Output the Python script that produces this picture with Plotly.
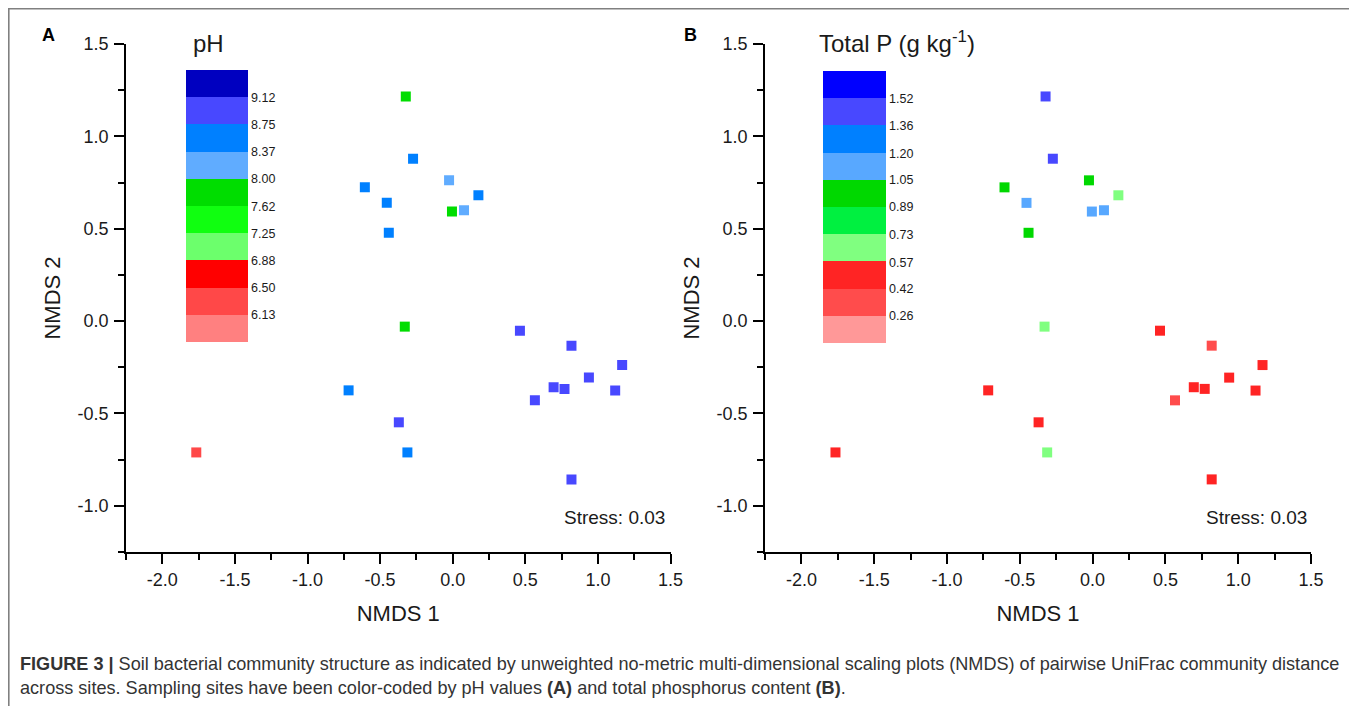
import plotly.graph_objects as go

# ---------------- data ----------------
nmds1 = [-0.323, -0.273, -0.025, -0.605, 0.177, -0.454, -0.005, 0.078, -0.440,
         0.463, 0.818, 1.167, 0.938, 0.695, 0.770, 1.119, 0.566, 0.818,
         -0.717, -0.371, -0.312, -1.766, -0.330]
nmds2 = [1.216, 0.879, 0.762, 0.724, 0.681, 0.640, 0.593, 0.600, 0.478,
         -0.052, -0.133, -0.238, -0.306, -0.358, -0.367, -0.376, -0.429, -0.857,
         -0.375, -0.548, -0.711, -0.711, -0.030]
ph = [7.80, 8.55, 8.20, 8.60, 8.50, 8.55, 7.78, 8.18, 8.52,
      8.95, 8.92, 8.98, 8.90, 8.96, 8.94, 8.93, 8.97, 8.91,
      8.58, 8.93, 8.54, 6.30, 7.82]
total_p = [1.44, 1.40, 0.97, 0.95, 0.66, 1.12, 1.10, 1.14, 0.99,
           0.50, 0.35, 0.48, 0.52, 0.47, 0.49, 0.51, 0.33, 0.46,
           0.50, 0.45, 0.64, 0.49, 0.68]

ph_bounds = [6.13, 6.50, 6.88, 7.25, 7.62, 8.00, 8.37, 8.75, 9.12]
ph_labels = ["6.13", "6.50", "6.88", "7.25", "7.62", "8.00", "8.37", "8.75", "9.12"]
p_bounds = [0.26, 0.42, 0.57, 0.73, 0.89, 1.05, 1.20, 1.36, 1.52]
p_labels = ["0.26", "0.42", "0.57", "0.73", "0.89", "1.05", "1.20", "1.36", "1.52"]

ph_colors = ["#ff8080", "#ff4848", "#ff0000", "#6cff6c", "#10ff10",
             "#00dd00", "#60acff", "#0080ff", "#4848ff", "#0000c0"]
p_colors = ["#ff9898", "#ff4c4c", "#ff2424", "#80ff80", "#00f040",
            "#00d800", "#58a8ff", "#0080ff", "#4848ff", "#0000ff"]

x_tickvals = [-2.0, -1.5, -1.0, -0.5, 0.0, 0.5, 1.0, 1.5]
x_ticktext = ["-2.0", "-1.5", "-1.0", "-0.5", "0.0", "0.5", "1.0", "1.5"]
y_tickvals = [-1.0, -0.5, 0.0, 0.5, 1.0, 1.5]
y_ticktext = ["-1.0", "-0.5", "0.0", "0.5", "1.0", "1.5"]

# ---------------- layout helpers ----------------
# the page body has an 8px margin, so the figure is drawn at (8, 8)
OFF = 8
W, H = 1357 - OFF, 706 - OFF
FONT = "Liberation Sans, Arial, Helvetica, sans-serif"


def px(x):
    return (x - OFF) / W


def py(y):
    return 1 - (y - OFF) / H


def discrete_scale(colors):
    n = len(colors)
    cs = []
    for i, c in enumerate(colors):
        cs.append([i / n, c])
        cs.append([(i + 1) / n, c])
    return cs


def crange(bounds):
    step = (bounds[-1] - bounds[0]) / (len(bounds) - 1)
    return bounds[0] - step, bounds[-1] + step


fig = go.Figure()
fig.add_trace(go.Scatter(x=nmds1, y=nmds2, mode="markers", xaxis="x", yaxis="y",
                         marker=dict(symbol="square", size=10, color=ph,
                                     coloraxis="coloraxis", line=dict(width=0)),
                         showlegend=False, hoverinfo="x+y"))
fig.add_trace(go.Scatter(x=nmds1, y=nmds2, mode="markers", xaxis="x2", yaxis="y2",
                         marker=dict(symbol="square", size=10, color=total_p,
                                     coloraxis="coloraxis2", line=dict(width=0)),
                         showlegend=False, hoverinfo="x+y"))

tickfont = dict(family=FONT, size=18, color="#1a1a1a")
titlefont = dict(family=FONT, size=22, color="#1a1a1a")


def xaxis(domain, anchor):
    return dict(domain=domain, anchor=anchor, range=[-2.25, 1.5],
                tickvals=x_tickvals, ticktext=x_ticktext,
                ticks="outside", ticklen=10, tickwidth=1.5, tickcolor="black",
                minor=dict(dtick=0.25, tick0=0, ticks="outside", ticklen=6,
                           tickwidth=1.5, tickcolor="black", showgrid=False),
                showline=True, linewidth=1.8, linecolor="black",
                showgrid=False, zeroline=False, tickfont=tickfont,
                ticklabelstandoff=0,
                title=dict(text="NMDS 1", font=titlefont, standoff=17))


def yaxis(domain, anchor):
    return dict(domain=domain, anchor=anchor, range=[-1.25, 1.5],
                tickvals=y_tickvals, ticktext=y_ticktext,
                ticks="outside", ticklen=10, tickwidth=1.5, tickcolor="black",
                minor=dict(dtick=0.25, tick0=0, ticks="outside", ticklen=6,
                           tickwidth=1.5, tickcolor="black", showgrid=False),
                showline=True, linewidth=1.8, linecolor="black",
                showgrid=False, zeroline=False, tickfont=tickfont,
                ticklabelstandoff=2,
                title=dict(text="NMDS 2", font=titlefont, standoff=11))


ydom = [py(552), py(44)]
ph_min, ph_max = crange(ph_bounds)
p_min, p_max = crange(p_bounds)

cb_common = dict(lenmode="pixels", len=272, thicknessmode="pixels",
                 xanchor="left", yanchor="middle", xpad=0, ypad=0,
                 outlinewidth=0, ticks="", ticklabelposition="outside",
                 tickfont=dict(family=FONT, size=12.5, color="#1a1a1a"))

fig.update_layout(
    width=W, height=H,
    margin=dict(l=0, r=0, t=0, b=0, autoexpand=False),
    paper_bgcolor="white", plot_bgcolor="white",
    font=dict(family=FONT),
    xaxis=xaxis([px(126), px(670.5)], "y"),
    yaxis=yaxis(ydom, "x"),
    xaxis2=xaxis([px(765), px(1311)], "y2"),
    yaxis2=yaxis(ydom, "x2"),
    coloraxis=dict(colorscale=discrete_scale(ph_colors), cmin=ph_min, cmax=ph_max,
                   colorbar=dict(x=px(186), y=py(206), thickness=62,
                                 tickvals=ph_bounds, ticktext=ph_labels, **cb_common)),
    coloraxis2=dict(colorscale=discrete_scale(p_colors), cmin=p_min, cmax=p_max,
                    colorbar=dict(x=px(823), y=py(207), thickness=63,
                                  tickvals=p_bounds, ticktext=p_labels, **cb_common)),
)


def note(text, x, y, size, color="#1a1a1a", xanchor="center"):
    return dict(text=text, x=px(x), y=py(y), xref="paper", yref="paper",
                xanchor=xanchor, yanchor="middle", showarrow=False,
                font=dict(family=FONT, size=size, color=color))


ann = [
    note("<b>A</b>", 48, 35, 18, "black"),
    note("<b>B</b>", 690, 35, 18, "black"),
    note("pH", 208, 43, 24),
    note("Total P (g kg<sup>-1</sup>)", 897, 42, 24),
    note("Stress: 0.03", 667, 517, 19, xanchor="right"),
    note("Stress: 0.03", 1309, 517, 19, xanchor="right"),
]
cap1 = ("<b>FIGURE 3 |</b> Soil bacterial community structure as indicated by unweighted "
        "no-metric multi-dimensional scaling plots (NMDS) of pairwise UniFrac community distance")
cap2 = ("across sites. Sampling sites have been color-coded by pH values <b>(A)</b> and total "
        "phosphorus content <b>(B)</b>.")
ann.append(note(cap1, 18, 664, 18.1, "#333333", xanchor="left"))
ann.append(note(cap2, 18, 688, 18.1, "#333333", xanchor="left"))
fig.update_layout(annotations=ann)

fig.add_shape(type="rect", xref="paper", yref="paper",
              x0=px(8.8), x1=px(1355), y0=-0.1, y1=py(8.8),
              line=dict(color="#808080", width=1.6), fillcolor="rgba(0,0,0,0)")

fig.write_html("out.html")
